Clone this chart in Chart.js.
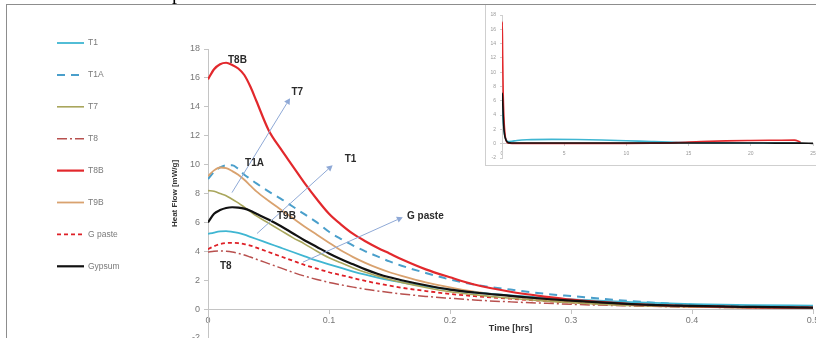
<!DOCTYPE html>
<html>
<head>
<meta charset="utf-8">
<script src="https://cdn.jsdelivr.net/npm/chart.js@4/dist/chart.umd.min.js"></script>
<style>
  html, body { margin: 0; padding: 0; background: #fff; }
  #wrap { position: relative; width: 816px; height: 338px; overflow: hidden; background: #fff; }
  #main { position: absolute; left: 0; top: 0; }
  #insetBox { position: absolute; left: 485px; top: 4px; width: 340px; height: 160px; border: 1px solid #cfcfcf; background: #fff; }
  #inset { position: absolute; left: 0; top: 0; }
  #frame { position: absolute; left: 6px; top: 4px; width: 830px; height: 350px; border-top: 1px solid #8d8d8d; border-left: 1px solid #8d8d8d; pointer-events: none; }
  #cut { position: absolute; left: 172px; top: -18px; font: 20px 'Liberation Serif', serif; line-height: 20px; color: #000; }
</style>
</head>
<body>
<div id="wrap">
  <canvas id="main" width="816" height="338"></canvas>
  <div id="insetBox"><canvas id="inset" width="340" height="160"></canvas></div>
  <div id="frame"></div>
  <div id="cut">p</div>
</div>
<script>
// Heat flow vs. time, first half hour (hrs)
const timeHrs = [0, 0.005, 0.01, 0.015, 0.02, 0.025, 0.03, 0.035, 0.04, 0.05, 0.06, 0.07, 0.08, 0.09, 0.10,
  0.11, 0.12, 0.13, 0.14, 0.15, 0.16, 0.18, 0.20, 0.22, 0.25, 0.28, 0.30, 0.35, 0.40, 0.45, 0.50];

const t1     = [5.2, 5.3, 5.38, 5.4, 5.35, 5.27, 5.15, 5.0, 4.85, 4.55, 4.25, 3.95, 3.65, 3.35, 3.1,
  2.85, 2.6, 2.38, 2.18, 2.0, 1.85, 1.58, 1.35, 1.15, 0.95, 0.78, 0.68, 0.48, 0.35, 0.28, 0.24];
const t1a    = [9.0, 9.5, 9.8, 9.95, 9.95, 9.7, 9.3, 9.0, 8.7, 8.15, 7.65, 7.1, 6.55, 6.0, 5.35,
  4.85, 4.4, 4.0, 3.65, 3.3, 3.0, 2.5, 2.05, 1.7, 1.35, 1.05, 0.9, 0.55, 0.3, 0.18, 0.12];
const t7     = [8.2, 8.15, 8.0, 7.85, 7.6, 7.35, 7.05, 6.75, 6.45, 5.95, 5.45, 4.95, 4.5, 4.0, 3.55,
  3.2, 2.85, 2.55, 2.3, 2.05, 1.85, 1.5, 1.2, 1.0, 0.75, 0.55, 0.45, 0.25, 0.15, 0.1, 0.07];
const t8     = [3.95, 4.0, 4.02, 4.0, 3.95, 3.86, 3.75, 3.6, 3.45, 3.15, 2.85, 2.55, 2.28, 2.05, 1.85,
  1.68, 1.52, 1.38, 1.26, 1.15, 1.05, 0.88, 0.75, 0.63, 0.5, 0.4, 0.33, 0.22, 0.14, 0.1, 0.07];
const t8b    = [15.9, 16.6, 16.95, 17.05, 16.9, 16.65, 16.2, 15.4, 14.4, 12.4, 11.1, 9.9, 8.7, 7.6, 6.6,
  5.85, 5.2, 4.7, 4.25, 3.85, 3.45, 2.75, 2.2, 1.7, 1.2, 0.85, 0.65, 0.35, 0.2, 0.12, 0.1];
const t9b    = [9.2, 9.6, 9.8, 9.75, 9.55, 9.3, 8.95, 8.55, 8.15, 7.5, 6.9, 6.3, 5.7, 5.15, 4.6,
  4.05, 3.6, 3.2, 2.85, 2.55, 2.3, 1.85, 1.5, 1.2, 0.9, 0.65, 0.5, 0.3, 0.18, 0.12, 0.08];
const gPaste = [4.15, 4.35, 4.5, 4.57, 4.58, 4.56, 4.5, 4.4, 4.25, 3.95, 3.65, 3.35, 3.05, 2.8, 2.55,
  2.35, 2.15, 1.95, 1.78, 1.62, 1.48, 1.25, 1.05, 0.9, 0.72, 0.55, 0.45, 0.28, 0.18, 0.12, 0.08];
const gypsum = [6.0, 6.6, 6.85, 7.0, 7.05, 7.02, 6.95, 6.8, 6.6, 6.2, 5.75, 5.25, 4.75, 4.3, 3.85,
  3.45, 3.1, 2.75, 2.45, 2.2, 2.0, 1.65, 1.35, 1.15, 0.92, 0.7, 0.58, 0.35, 0.22, 0.15, 0.1];

const seriesNames  = ['T1', 'T1A', 'T7', 'T8', 'T8B', 'T9B', 'G paste', 'Gypsum'];
const seriesValues = [t1, t1a, t7, t8, t8b, t9b, gPaste, gypsum];

// Full 25 h run (small panel)
const longTimeHrs = [0, 0.02, 0.05, 0.1, 0.15, 0.2, 0.3, 0.5, 0.8, 1.2, 2, 4, 6, 8, 10, 12,
  14, 16, 18, 20, 22, 23.5, 24, 25];
const longT8b    = [16, 17, 12.4, 6.6, 3.85, 2.2, 0.65, 0.1, 0.05, 0.05, 0.05, 0.05, 0.05, 0.05,
  0.05, 0.08, 0.15, 0.3, 0.4, 0.45, 0.48, 0.5, 0.25, null];
const longGypsum = [6, 7.05, 6.2, 3.85, 2.2, 1.35, 0.58, 0.15, 0.1, 0.1, 0.1, 0.1, 0.1, 0.1,
  0.1, 0.1, 0.1, 0.1, 0.1, 0.1, 0.08, 0.08, 0.08, 0.05];
const longT1     = [5.2, 5.35, 4.55, 3.1, 2.0, 1.35, 0.68, 0.3, 0.35, 0.45, 0.55, 0.6, 0.58, 0.52,
  0.42, 0.3, 0.2, 0.15, 0.12, 0.1, 0.1, 0.08, 0.08, null];
const longNames  = ['T1', 'T8B', 'Gypsum'];
const longValues = [longT1, longT8b, longGypsum];

// Callout labels and arrows, in data units
const noteTexts = ['T8B', 'T7', 'T1A', 'T1', 'T9B', 'G paste', 'T8'];
const noteTime  = [0.0165, 0.069, 0.0306, 0.113, 0.057, 0.1645, 0.0099];
const noteFlow  = [17.24, 15.0, 10.1, 10.4, 6.43, 6.43, 3.0];
const arrowFromTime = [0.0198, 0.0405, 0.0785];
const arrowFromFlow = [8.06, 5.23, 3.25];
const arrowToTime   = [0.0678, 0.103, 0.161];
const arrowToFlow   = [14.6, 9.96, 6.36];

// Line styling per sample
const lineStyle = {
  'T1':      { color: '#3fb6d2', width: 1.8, dash: [] },
  'T1A':     { color: '#4a9fcb', width: 2.0, dash: [8, 6] },
  'T7':      { color: '#a9a65c', width: 1.6, dash: [] },
  'T8':      { color: '#b8504e', width: 1.5, dash: [10, 3, 2, 3] },
  'T8B':     { color: '#e2282c', width: 2.2, dash: [] },
  'T9B':     { color: '#d9a26f', width: 1.8, dash: [] },
  'G paste': { color: '#de2027', width: 1.8, dash: [4, 3] },
  'Gypsum':  { color: '#111111', width: 2.2, dash: [] }
};
const stackOrder = { 'Gypsum': 0, 'T8B': 1, 'T7': 2, 'T1': 3, 'G paste': 4, 'T8': 5, 'T9B': 6, 'T1A': 7 };

const FONT = "'Liberation Sans', Arial, sans-serif";
const toPoints = (xs, ys) => xs.map((x, i) => ({ x: x, y: ys[i] }));

function makeDataset(name, xs, ys) {
  const s = lineStyle[name];
  return {
    label: name,
    data: toPoints(xs, ys),
    borderColor: s.color,
    backgroundColor: s.color,
    borderWidth: s.width,
    borderDash: s.dash,
    pointRadius: 0,
    fill: false,
    spanGaps: false,
    cubicInterpolationMode: 'monotone',
    order: stackOrder[name]
  };
}

// Legend drawn as a vertical list on the left, from the datasets' own styles
const sideLegend = {
  id: 'sideLegend',
  afterDraw(chart) {
    const ctx = chart.ctx;
    ctx.save();
    chart.data.datasets.forEach((ds, i) => {
      const y = 43 + i * 31.9;
      ctx.strokeStyle = ds.borderColor;
      ctx.lineWidth = ds.borderWidth;
      ctx.setLineDash(ds.borderDash || []);
      ctx.beginPath();
      ctx.moveTo(57, y);
      ctx.lineTo(84, y);
      ctx.stroke();
      ctx.setLineDash([]);
      ctx.fillStyle = '#7a7a7a';
      ctx.font = '8.5px ' + FONT;
      ctx.textBaseline = 'middle';
      ctx.textAlign = 'left';
      ctx.fillText(ds.label, 88, y);
    });
    ctx.restore();
  }
};

// Callout labels with arrows
const callouts = {
  id: 'callouts',
  afterDatasetsDraw(chart) {
    const ctx = chart.ctx, xs = chart.scales.x, ys = chart.scales.y;
    ctx.save();
    ctx.strokeStyle = '#8fa9d6';
    ctx.fillStyle = '#8fa9d6';
    ctx.lineWidth = 1;
    for (let i = 0; i < arrowFromTime.length; i++) {
      const x0 = xs.getPixelForValue(arrowFromTime[i]), y0 = ys.getPixelForValue(arrowFromFlow[i]);
      const x1 = xs.getPixelForValue(arrowToTime[i]), y1 = ys.getPixelForValue(arrowToFlow[i]);
      const a = Math.atan2(y1 - y0, x1 - x0);
      const len = 6, half = 3.2;
      const bx = x1 - len * Math.cos(a), by = y1 - len * Math.sin(a);
      ctx.beginPath();
      ctx.moveTo(x0, y0);
      ctx.lineTo(bx, by);
      ctx.stroke();
      ctx.beginPath();
      ctx.moveTo(x1, y1);
      ctx.lineTo(bx + half * Math.sin(a), by - half * Math.cos(a));
      ctx.lineTo(bx - half * Math.sin(a), by + half * Math.cos(a));
      ctx.closePath();
      ctx.fill();
    }
    ctx.fillStyle = '#2b2b2b';
    ctx.font = 'bold 10px ' + FONT;
    ctx.textBaseline = 'middle';
    ctx.textAlign = 'left';
    noteTexts.forEach((txt, i) => {
      ctx.fillText(txt, xs.getPixelForValue(noteTime[i]), ys.getPixelForValue(noteFlow[i]));
    });
    ctx.restore();
  }
};

new Chart(document.getElementById('main'), {
  type: 'line',
  data: { datasets: seriesNames.map((n, i) => makeDataset(n, timeHrs, seriesValues[i])) },
  options: {
    responsive: false,
    animation: false,
    events: [],
    layout: { padding: { left: 170, right: 3, top: 49, bottom: 0 } },
    plugins: { legend: { display: false }, tooltip: { enabled: false } },
    scales: {
      x: {
        type: 'linear',
        position: { y: 0 },
        min: 0, max: 0.5,
        afterFit(s) { s.height = 6; s.paddingLeft = 0; s.paddingRight = 0; },
        ticks: { stepSize: 0.1, autoSkip: false, maxRotation: 0, padding: 2,
                 color: '#777', font: { family: FONT, size: 9 } },
        grid: { drawOnChartArea: false, tickLength: 4, color: '#c4c4c4' },
        border: { color: '#c4c4c4' },
        title: { display: true, text: 'Time [hrs]', color: '#333',
                 font: { family: FONT, size: 9, weight: 'bold' },
                 padding: { top: 0, bottom: -19 } }
      },
      y: {
        type: 'linear',
        min: -2, max: 18,
        afterFit(s) { s.width = 38; s.paddingTop = 0; s.paddingBottom = 0; },
        ticks: { stepSize: 2, autoSkip: false, padding: 4,
                 color: '#777', font: { family: FONT, size: 9 } },
        grid: { drawOnChartArea: false, tickLength: 4, color: '#c4c4c4' },
        border: { color: '#c4c4c4' },
        title: { display: true, text: 'Heat Flow [mW/g]', color: '#333',
                 font: { family: FONT, size: 8, weight: 'bold' }, padding: 0 }
      }
    }
  },
  plugins: [sideLegend, callouts]
});

// Small panel: the whole 25 h measurement
new Chart(document.getElementById('inset'), {
  type: 'line',
  data: { datasets: longNames.map((n, i) => {
    const d = makeDataset(n, longTimeHrs, longValues[i]);
    d.borderDash = [];
    d.borderWidth = 1.6;
    return d;
  }) },
  options: {
    responsive: false,
    animation: false,
    events: [],
    layout: { padding: { left: 0, right: 13, top: 10, bottom: 7 } },
    plugins: { legend: { display: false }, tooltip: { enabled: false } },
    scales: {
      x: {
        type: 'linear',
        position: { y: 0 },
        min: 0, max: 25,
        afterFit(s) { s.height = 0; s.paddingLeft = 0; s.paddingRight = 0; },
        ticks: { stepSize: 5, autoSkip: false, maxRotation: 0, padding: 4.5,
                 color: '#999', font: { family: FONT, size: 5 } },
        grid: { drawOnChartArea: false, tickLength: 2, color: '#cfcfcf' },
        border: { color: '#cfcfcf' }
      },
      y: {
        type: 'linear',
        min: -2, max: 18,
        afterFit(s) { s.width = 16; s.paddingTop = 0; s.paddingBottom = 0; },
        ticks: { stepSize: 2, autoSkip: false, padding: 4,
                 color: '#999', font: { family: FONT, size: 5 } },
        grid: { drawOnChartArea: false, tickLength: 2, color: '#cfcfcf' },
        border: { color: '#cfcfcf' }
      }
    }
  }
});
</script>
</body>
</html>
